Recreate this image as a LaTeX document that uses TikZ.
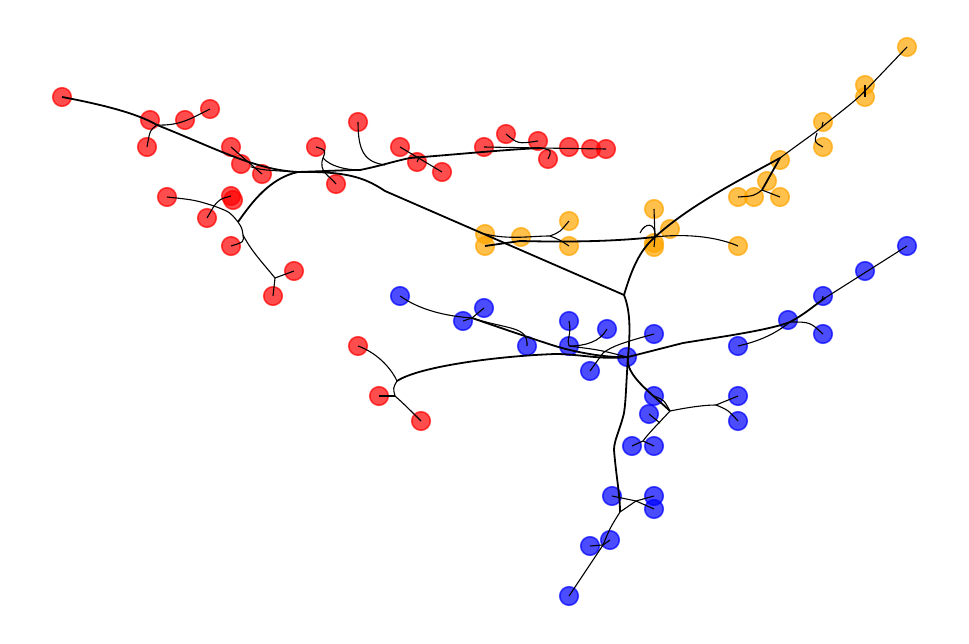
\documentclass[tikz,border=0pt]{standalone}
\definecolor{gold}{RGB}{255,165,0}
\begin{document}
\begin{tikzpicture}[x=1pt,y=-1pt,
  dot/.style={circle,inner sep=0pt,minimum size=18.5pt,line width=1.6pt,fill opacity=0.7,draw opacity=0.7},
  rn/.style={dot,draw=red,fill=red},
  on/.style={dot,draw=gold,fill=gold},
  bn/.style={dot,draw=blue,fill=blue},
  ed/.style={line width=1.1pt,black},
  edk/.style={line width=1.8pt,black}]
\useasboundingbox (0,0) rectangle (969,644);
% red nodes
\node[rn] (r1) at (62,97) {};
\node[rn] (r2) at (150,120) {};
\node[rn] (r3) at (185,120) {};
\node[rn] (r4) at (210,109) {};
\node[rn] (r5) at (147,147) {};
\node[rn] (r6) at (231,147) {};
\node[rn] (r7) at (241,164) {};
\node[rn] (r8) at (262,174) {};
\node[rn] (r9) at (167,197) {};
\node[rn] (r10) at (231,196) {};
\node[rn] (r10b) at (233,200) {};
\node[rn] (r11) at (207,218) {};
\node[rn] (r12) at (231,246) {};
\node[rn] (r13) at (294,271) {};
\node[rn] (r14) at (273,296) {};
\node[rn] (r15) at (316,147) {};
\node[rn] (r16) at (336,184) {};
\node[rn] (r17) at (358,122) {};
\node[rn] (r18) at (400,147) {};
\node[rn] (r19) at (417,162) {};
\node[rn] (r20) at (442,172) {};
\node[rn] (r21) at (484,147) {};
\node[rn] (r22) at (506,134) {};
\node[rn] (r23) at (538,141) {};
\node[rn] (r24) at (548,159) {};
\node[rn] (r25) at (569,147) {};
\node[rn] (r26) at (591,149) {};
\node[rn] (r27) at (606,149) {};
\node[rn] (r28) at (358,346) {};
\node[rn] (r29) at (379,396) {};
\node[rn] (r30) at (421,421) {};
% orange nodes
\node[on] (o1) at (485,234) {};
\node[on] (o2) at (485,246) {};
\node[on] (o3) at (521,237) {};
\node[on] (o4) at (569,221) {};
\node[on] (o5) at (569,246) {};
\node[on] (o6) at (654,209) {};
\node[on] (o7) at (670,229) {};
\node[on] (o8) at (654,243) {};
\node[on] (o8b) at (654,247) {};
\node[on] (o9) at (738,246) {};
\node[on] (o10) at (738,197) {};
\node[on] (o11) at (754,197) {};
\node[on] (o12) at (780,197) {};
\node[on] (o13) at (767,181) {};
\node[on] (o14) at (780,160) {};
\node[on] (o15) at (823,122) {};
\node[on] (o16) at (823,147) {};
\node[on] (o17) at (865,85) {};
\node[on] (o18) at (865,97) {};
\node[on] (o19) at (907,47) {};
% blue nodes
\node[bn] (b1) at (400,296) {};
\node[bn] (b2) at (463,321) {};
\node[bn] (b3) at (484,308) {};
\node[bn] (b4) at (527,346) {};
\node[bn] (b5) at (569,321) {};
\node[bn] (b6) at (569,346) {};
\node[bn] (b7) at (607,329) {};
\node[bn] (b8) at (654,334) {};
\node[bn] (b9) at (627,357) {};
\node[bn] (b10) at (590,371) {};
\node[bn] (b11) at (738,346) {};
\node[bn] (b12) at (788,320) {};
\node[bn] (b13) at (823,296) {};
\node[bn] (b14) at (823,334) {};
\node[bn] (b15) at (865,271) {};
\node[bn] (b16) at (907,246) {};
\node[bn] (b17) at (654,396) {};
\node[bn] (b18) at (649,414) {};
\node[bn] (b19) at (738,396) {};
\node[bn] (b20) at (738,421) {};
\node[bn] (b21) at (632,446) {};
\node[bn] (b22) at (654,446) {};
\node[bn] (b23) at (612,496) {};
\node[bn] (b24) at (654,496) {};
\node[bn] (b25) at (654,509) {};
\node[bn] (b26) at (590,546) {};
\node[bn] (b27) at (610,540) {};
\node[bn] (b28) at (569,596) {};
% junctions
\coordinate (J0) at (624,295);
\coordinate (k1) at (385,191);
\coordinate (JR1) at (298,172);
\coordinate (JRU) at (157,125);
\coordinate (JRL) at (238,222);
\coordinate (J9) at (214,206);
\coordinate (J12) at (243,235);
\coordinate (J13) at (275,278);
\coordinate (JQ) at (323,158);
\coordinate (JQ2) at (360,170);
\coordinate (JP) at (385,165);
\coordinate (JS) at (410,158);
\coordinate (JR3) at (540,148);
\coordinate (JO) at (655,237);
\coordinate (JO1) at (780,158);
\coordinate (JO2) at (822,127);
\coordinate (JO2b) at (817,133);
\coordinate (JO3) at (865,91);
\coordinate (JO4) at (762,190);
\coordinate (JO5) at (520,241);
\coordinate (JO6) at (550,236);
\coordinate (JO7) at (640,233);
\coordinate (JB) at (628,357);
\coordinate (JB4) at (624,413);
\coordinate (JB5) at (614,450);
\coordinate (JB2) at (620,512);
\coordinate (JB6) at (636,501);
\coordinate (JB7) at (603,545);
\coordinate (JB8) at (683,343);
\coordinate (JB9) at (790,322);
\coordinate (JB10) at (825,298);
\coordinate (JB11) at (555,354);
\coordinate (J28) at (397,381);
\coordinate (J29) at (395,396);
\coordinate (JB12) at (555,346);
\coordinate (JB13) at (472,318);
\coordinate (JB15) at (603,353);
\coordinate (JB3) at (670,411);
\coordinate (JB17) at (643,441);
\coordinate (JB18) at (660,423);
\coordinate (JB19) at (716,405);
% ---- red edges
\draw[edk] (J0) -- (k1) .. controls (368,180) and (352,171) .. (JR1);
\draw[edk] (JRU) .. controls (215,148) and (255,170) .. (JR1);
\draw[ed] (r7) .. controls (262,170) .. (JR1);
\draw[ed] (r6.center) -- (r8.center);
\draw[edk] (r1.center) .. controls (110,106) and (140,115) .. (JRU);
\draw[ed] (JRU) .. controls (150,130) .. (r5.center);
\draw[ed] (JRU) .. controls (180,126) and (192,118) .. (r4.center);
\draw[edk] (JR1) .. controls (270,178) and (252,202) .. (JRL);
\draw[ed] (JRL) .. controls (230,212) .. (J9);
\draw[ed] (J9) .. controls (195,200) .. (r9.center);
\draw[ed] (J9) -- (r11.center);
\draw[ed] (J9) .. controls (220,199) .. (r10.center);
\draw[ed] (JRL) .. controls (242,228) .. (J12);
\draw[ed] (J12) .. controls (244,242) .. (r12.center);
\draw[ed] (J12) .. controls (252,252) and (262,262) .. (J13);
\draw[ed] (J13) -- (r13.center);
\draw[ed] (J13) -- (r14.center);
\draw[edk] (JR1) .. controls (330,171) and (345,170) .. (JQ2) .. controls (380,166) and (395,161) .. (JS) .. controls (450,155) and (500,150) .. (JR3);
\draw[ed] (JR3) -- (r27.center);
\draw[ed] (r21.center) -- (JR3);
\draw[ed] (r22.center) .. controls (518,144) .. (r23.center);
\draw[ed] (JR3) .. controls (552,150) .. (r24.center);
\draw[ed] (r15.center) .. controls (326,150) .. (JQ);
\draw[ed] (JQ) .. controls (318,172) and (330,176) .. (r16.center);
\draw[ed] (JQ) .. controls (330,166) and (345,170) .. (JQ2);
\draw[ed] (r17.center) .. controls (358,152) and (365,162) .. (JP);
\draw[ed] (r18.center) -- (r20.center);
\draw[ed] (JS) .. controls (420,156) .. (r19.center);
% ---- orange edges
\draw[edk] (J0) .. controls (632,268) and (640,250) .. (JO);
\draw[edk] (JO) .. controls (690,205) and (740,180) .. (JO1);
\draw[ed] (JO1) .. controls (800,143) and (812,135) .. (JO2) .. controls (840,112) and (852,104) .. (JO3) -- (o19.center);
\draw[edk] (JO1) -- (JO4);
\draw[ed] (JO4) .. controls (754,196) .. (o10.center);
\draw[ed] (JO4) -- (o12.center);
\draw[ed] (JO2) -- (o15.center);
\draw[ed] (JO2b) .. controls (814,142) .. (o16.center);
\draw[ed] (o17.center) -- (o18.center);
\draw[edk] (JO) .. controls (610,242) and (560,242) .. (JO5) -- (o2.center);
\draw[ed] (o1.center) .. controls (510,240) and (530,236) .. (JO6);
\draw[ed] (JO6) .. controls (560,232) .. (o4.center);
\draw[ed] (JO6) .. controls (560,240) .. (o5.center);
\draw[ed] (JO7) .. controls (645,222) and (656,222) .. (JO);
\draw[ed] (o6.center) -- (JO);
\draw[ed] (JO) -- (o8b.center);
\draw[ed] (JO) .. controls (690,233) and (720,238) .. (o9.center);
% ---- blue edges
\draw[edk] (J0) .. controls (631,312) and (630,335) .. (JB);
\draw[edk] (JB) .. controls (626,385) and (626,400) .. (JB4) .. controls (620,430) and (614,440) .. (JB5) .. controls (616,475) and (620,495) .. (JB2);
\draw[ed] (JB2) -- (JB6);
\draw[ed] (b23.center) -- (JB6) -- (b24.center);
\draw[ed] (JB6) -- (b25.center);
\draw[ed] (JB2) .. controls (610,528) .. (JB7) -- (b28.center);
\draw[ed] (JB7) -- (b26.center);
\draw[ed] (JB7) -- (b27.center);
\draw[edk] (JB) -- (JB8) .. controls (720,337) and (770,330) .. (JB9) .. controls (805,314) and (815,305) .. (JB10);
\draw[ed] (JB10) -- (b16.center);
\draw[ed] (b11.center) .. controls (765,340) and (780,330) .. (JB9);
\draw[ed] (JB9) .. controls (810,322) .. (b14.center);
\draw[ed] (JB10) .. controls (822,300) .. (b13.center);
\draw[edk] (JB) .. controls (600,360) and (580,354) .. (JB11) .. controls (500,356) and (420,366) .. (J28);
\draw[ed] (J28) .. controls (390,366) and (375,352) .. (r28.center);
\draw[ed] (J28) .. controls (393,388) .. (J29);
\draw[ed] (J29) -- (r29.center);
\draw[ed] (J29) .. controls (405,405) .. (r30.center);
\draw[edk] (JB) .. controls (605,358) and (575,352) .. (JB12) .. controls (530,338) and (495,326) .. (JB13);
\draw[ed] (JB13) -- (b2.center);
\draw[ed] (JB13) -- (b3.center);
\draw[ed] (b1.center) .. controls (420,310) and (445,316) .. (JB13);
\draw[ed] (JB13) .. controls (510,330) and (528,326) .. (b4.center);
\draw[ed] (b5.center) .. controls (572,335) and (566,340) .. (b6.center);
\draw[ed] (b6.center) .. controls (600,350) .. (b9.center);
\draw[ed] (b7.center) .. controls (600,342) and (585,346) .. (b6.center);
\draw[ed] (b8.center) .. controls (625,342) and (612,346) .. (JB15);
\draw[ed] (JB15) -- (b10.center);
\draw[edk] (JB) .. controls (625,375) and (650,392) .. (JB3);
\draw[ed] (JB3) .. controls (664,400) .. (b17.center);
\draw[ed] (JB3) .. controls (656,426) and (648,434) .. (JB17);
\draw[ed] (JB17) -- (b21.center);
\draw[ed] (JB17) -- (b22.center);
\draw[ed] (b18.center) -- (JB18);
\draw[ed] (JB3) .. controls (690,407) and (705,405) .. (JB19);
\draw[ed] (JB19) -- (b19.center);
\draw[ed] (JB19) .. controls (728,410) .. (b20.center);
\end{tikzpicture}
\end{document}
